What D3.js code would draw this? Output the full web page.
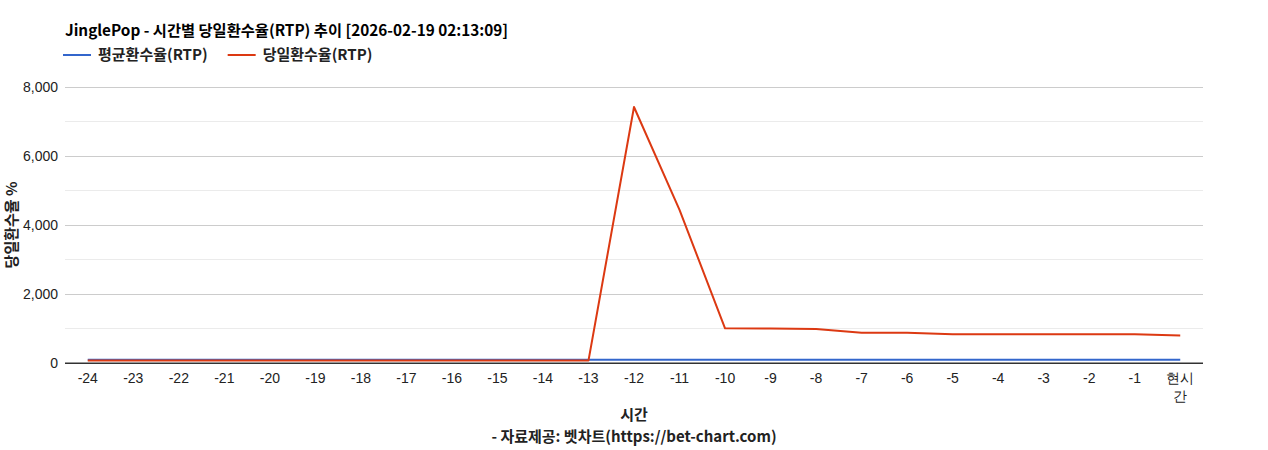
<!DOCTYPE html>
<html>
<head>
<meta charset="utf-8">
<script src="https://cdn.jsdelivr.net/npm/d3@7"></script>
<style>
  body { margin: 0; background: #fff; }
  svg { display: block; }
</style>
</head>
<body>
<div id="chart"></div>
<script>
// 시간별 당일환수율(RTP) 추이
const hours = ['-24','-23','-22','-21','-20','-19','-18','-17','-16','-15','-14','-13',
  '-12','-11','-10','-9','-8','-7','-6','-5','-4','-3','-2','-1','현시간'];
const avgRtp = [96,96,96,96,96,96,96,96,96,96,96,96,
  96,96,96,96,96,96,96,96,96,96,96,96,96];
const dayRtp = [70,70,70,70,70,70,70,70,70,70,70,70,
  7420,4440,1005,1000,985,880,875,830,830,830,830,830,800];
const yTicks = [0, 2000, 4000, 6000, 8000];
const yMinor = [1000, 3000, 5000, 7000];

const title = 'JinglePop - 시간별 당일환수율(RTP) 추이 [2026-02-19 02:13:09]';
const seriesNames = ['평균환수율(RTP)', '당일환수율(RTP)'];
const colors = ['#3366cc', '#dc3912'];

const width = 1268, height = 450;
const margin = { top: 87, right: 65, bottom: 87, left: 65 };
const korFont = '"Noto Sans CJK KR", "Noto Sans", sans-serif';
const tickFont = '"Liberation Sans", Arial, sans-serif';

const svg = d3.select('#chart').append('svg')
  .attr('width', width)
  .attr('height', height);

const x = d3.scaleBand()
  .domain(hours)
  .range([margin.left, width - margin.right]);

const y = d3.scaleLinear()
  .domain([0, 8000])
  .range([height - margin.bottom, margin.top]);

// 보조 격자
svg.append('g').selectAll('line')
  .data(yMinor).enter().append('line')
  .attr('x1', margin.left).attr('x2', width - margin.right)
  .attr('y1', d => y(d)).attr('y2', d => y(d))
  .attr('stroke', '#ebebeb');

// 주 격자 + y축 라벨
const yAxis = svg.append('g')
  .attr('transform', `translate(${margin.left},0)`)
  .call(d3.axisLeft(y).tickValues(yTicks).tickSize(-(width - margin.left - margin.right)).tickPadding(7).tickFormat(d3.format(',')));
yAxis.select('.domain').remove();
yAxis.selectAll('.tick line').attr('stroke', d => d === 0 ? '#333' : '#cccccc');
yAxis.selectAll('.tick text')
  .attr('font-family', tickFont).attr('font-size', 14).attr('fill', '#222');

// x축
const xAxis = svg.append('g')
  .attr('transform', `translate(0,${height - margin.bottom})`)
  .call(d3.axisBottom(x).tickSize(0).tickPadding(10));
xAxis.select('.domain').remove();
xAxis.selectAll('.tick text')
  .attr('font-family', tickFont).attr('font-size', 14).attr('fill', '#222')
  .each(function(d) {
    if (d.length > 2 && !d.startsWith('-')) {
      const t = d3.select(this);
      t.text(null);
      t.append('tspan').attr('x', 0).attr('dy', '0.71em').text(d.slice(0, 2));
      t.append('tspan').attr('x', 0).attr('dy', '1.3em').text(d.slice(2));
      t.attr('dy', null);
    }
  });

// 기준선
svg.append('line')
  .attr('x1', margin.left).attr('x2', width - margin.right)
  .attr('y1', y(0)).attr('y2', y(0))
  .attr('stroke', '#333');

// 선
const line = d3.line()
  .x((d, i) => x(hours[i]) + x.bandwidth() / 2)
  .y(d => y(d));

[avgRtp, dayRtp].forEach((vals, k) => {
  svg.append('path')
    .datum(vals)
    .attr('fill', 'none')
    .attr('stroke', colors[k])
    .attr('stroke-width', 2)
    .attr('stroke-linejoin', 'round')
    .attr('d', line);
});

// 제목
svg.append('text')
  .attr('x', margin.left).attr('y', 36)
  .attr('font-family', korFont).attr('font-size', 15.3).attr('font-weight', 'bold')
  .attr('fill', '#000')
  .text(title);

// 범례
const legend = svg.append('g').attr('transform', 'translate(63,55)');
let lx = 0;
seriesNames.forEach((name, k) => {
  const g = legend.append('g').attr('transform', `translate(${lx},0)`);
  g.append('line').attr('x1', 0).attr('x2', 28).attr('y1', 0).attr('y2', 0)
    .attr('stroke', colors[k]).attr('stroke-width', 2);
  const t = g.append('text').attr('x', 35).attr('y', 5)
    .attr('font-family', korFont).attr('font-size', 15).attr('font-weight', 'bold')
    .attr('fill', '#222').text(name);
  lx += 35 + t.node().getComputedTextLength() + 20;
});

// 축 제목
svg.append('text')
  .attr('transform', `translate(17,${(y(0) + y(8000)) / 2}) rotate(-90)`)
  .attr('text-anchor', 'middle')
  .attr('font-family', korFont).attr('font-size', 15).attr('font-weight', 'bold')
  .attr('fill', '#222')
  .text('당일환수율 %');

svg.append('text')
  .attr('x', (margin.left + width - margin.right) / 2).attr('y', 420)
  .attr('text-anchor', 'middle')
  .attr('font-family', korFont).attr('font-size', 15).attr('font-weight', 'bold')
  .attr('fill', '#222')
  .text('시간');

svg.append('text')
  .attr('x', (margin.left + width - margin.right) / 2).attr('y', 442)
  .attr('text-anchor', 'middle')
  .attr('font-family', korFont).attr('font-size', 15).attr('font-weight', 'bold')
  .attr('fill', '#222')
  .text('- 자료제공: 벳차트(https://bet-chart.com)');
</script>
</body>
</html>
